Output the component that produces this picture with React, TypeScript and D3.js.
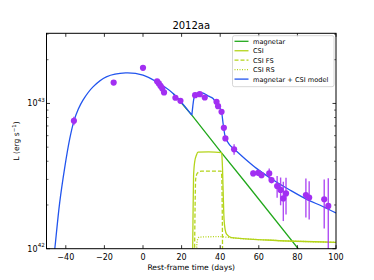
import React from 'react';
import * as d3 from 'd3';

const title = '2012aa';
const xLabel = 'Rest-frame time (days)';
const xTicks = [-40, -20, 0, 20, 40, 60, 80, 100];
const yMajor = [1e42, 1e43];
const yMajorLabels = ['42', '43'];
const yMinor = [2e42, 3e42, 4e42, 5e42, 6e42, 7e42, 8e42, 9e42, 2e43, 3e43];

// observed bolometric light curve (erg/s)
const obsTime = [-35.8, -15.2, 0, 7.3, 8.2, 9.1, 10.0, 10.9, 16.8, 19.4, 27.0, 29.4, 32.0, 38.1, 38.9, 40.7, 41.9, 42.7, 47.2, 57.1, 59.7, 61.4, 65.4, 66.6, 69.5, 71.3, 72.7, 74.1, 84.4, 86.1, 93.9, 96.0];
const obsLum = [7.59e42, 1.393e43, 1.758e43, 1.422e43, 1.374e43, 1.321e43, 1.268e43, 1.191e43, 1.094e43, 1.042e43, 1.14e43, 1.159e43, 1.099e43, 1.026e43, 9.57e42, 8.75e42, 6.79e42, 5.74e42, 4.83e42, 3.3e42, 3.33e42, 3.21e42, 3.3e42, 2.97e42, 2.7e42, 2.54e42, 2.22e42, 2.4e42, 2.34e42, 2.25e42, 2.19e42, 1.97e42];
const obsErr = [0.5e42, 0.3e42, 0.3e42, 0.3e42, 0.2e42, 0.2e42, 0.2e42, 0.2e42, 0.2e42, 0.2e42, 0.2e42, 0.2e42, 0.2e42, 0.2e42, 0.2e42, 0.2e42, 0.2e42, 0.2e42, 0.4e42, 0.15e42, 0.15e42, 0.15e42, 0.27e42, 0.15e42, 0.46e42, 0.55e42, 0.67e42, 0.68e42, 0.7e42, 0.66e42, 0.81e42, 1.08e42];

// model curves (log10 L)
const magTime = [15.6, 25.3, 40.3, 52.8, 80.4, 83.0];
const magLogL = [43.069, 42.92, 42.667, 42.461, 42.0, 41.95];

const csiTime = [25.6, 25.9, 26.2, 26.8, 27.7, 28.5, 34.0, 40.6, 40.8, 41.2, 41.6, 42.0, 42.6, 43.3, 45.9, 64.0, 100.0];
const csiLogL = [41.8, 42.2, 42.5, 42.6, 42.645, 42.665, 42.667, 42.662, 42.655, 42.55, 42.36, 42.2, 42.13, 42.1, 42.076, 42.06, 42.044];

const fsTime = [26.6, 26.9, 27.3, 28.2, 30.3, 40.4, 40.8, 41.1, 41.3];
const fsLogL = [41.8, 42.2, 42.48, 42.52, 42.534, 42.534, 42.5, 42.2, 41.8];

const rsTime = [27.5, 27.8, 28.2, 29.2, 40.0, 46.0, 64.0, 100.0];
const rsLogL = [41.8, 42.0, 42.06, 42.08, 42.083, 42.075, 42.06, 42.044];

// magnetar-only part of the full model (before CSI onset)
const modelEarlyTime = [-46.3, -45.7, -43.2, -40.6, -38.0, -35.8, -33.5, -31.1, -25.9, -19.0, -9.0, 0, 7.0, 15.6, 25.3];
const modelEarlyLogL = [41.93, 42.0, 42.314, 42.555, 42.754, 42.878, 42.961, 43.023, 43.114, 43.183, 43.21, 43.195, 43.149, 43.069, 42.92];
// after CSI onset
const modelLateTime = [25.3, 25.8, 26.3, 27.2, 28.9, 31.5, 34.0, 36.3, 38.1, 38.9, 40.7, 41.5, 42.4, 43.8, 45.0, 46.7, 50.2, 52.8, 58.8, 67.5, 76.1, 84.8, 93.4, 100.0];
const modelLateLogL = [42.92, 42.98, 43.03, 43.057, 43.076, 43.069, 43.05, 43.034, 43.0, 42.988, 42.942, 42.862, 42.782, 42.736, 42.713, 42.691, 42.65, 42.62, 42.553, 42.473, 42.404, 42.34, 42.289, 42.246];

const legendNames = ['magnetar', 'CSI', 'CSI FS', 'CSI RS', 'magnetar + CSI model'];

const GREEN = '#22a81c';
const LIME = '#b4d41a';
const BLUE = '#2255ee';
const PURPLE = '#a22ff2';

const W = 374, H = 280;
const PL = 46.5, PR = 336, PT = 33.3, PB = 248.7;

export default function App() {
  const x = d3.scaleLinear().domain([-50, 100]).range([PL, PR]);
  const y = d3.scaleLog().domain([1e42, 3.04e43]).range([PB, PT]);
  const mk = (ts: number[], ls: number[], curve: d3.CurveFactory) =>
    d3.line<number>().x((_, i) => x(ts[i])).y(d => y(Math.pow(10, d))).curve(curve)(ls) || '';

  const series = [
    { name: legendNames[0], path: mk(magTime, magLogL, d3.curveLinear), color: GREEN, dash: undefined as string | undefined },
    { name: legendNames[1], path: mk(csiTime, csiLogL, d3.curveMonotoneX), color: LIME, dash: undefined },
    { name: legendNames[2], path: mk(fsTime, fsLogL, d3.curveMonotoneX), color: LIME, dash: '4,2' },
    { name: legendNames[3], path: mk(rsTime, rsLogL, d3.curveMonotoneX), color: LIME, dash: '1,1.5' },
    {
      name: legendNames[4],
      path: mk(modelEarlyTime, modelEarlyLogL, d3.curveCatmullRom.alpha(0.5)) + mk(modelLateTime, modelLateLogL, d3.curveMonotoneX),
      color: BLUE, dash: undefined,
    },
  ];
  const font = 'DejaVu Sans, sans-serif';
  const lx = 232.5, ly = 35.7, lw = 101.5, lh = 51;

  return (
    <svg width={W} height={H} style={{ position: 'absolute', left: 0, top: 0, background: '#fff' }} fontFamily={font}>
      <defs>
        <clipPath id="plotclip">
          <rect x={PL} y={PT} width={PR - PL} height={PB - PT} />
        </clipPath>
      </defs>
      <rect x={0} y={0} width={W} height={H} fill="#fff" />
      <g clipPath="url(#plotclip)">
        {series.map((s, i) => (
          <path key={i} d={s.path} fill="none" stroke={s.color} strokeWidth={1.3} strokeDasharray={s.dash} strokeLinejoin="round" />
        ))}
        {obsTime.map((t, i) => {
          const lo = Math.max(obsLum[i] - obsErr[i], 1e41);
          return (
            <line key={'e' + i} x1={x(t)} x2={x(t)} y1={y(obsLum[i] + obsErr[i])} y2={y(lo)} stroke={PURPLE} strokeWidth={1.4} opacity={0.85} />
          );
        })}
        {obsTime.map((t, i) => (
          <circle key={'p' + i} cx={x(t)} cy={y(obsLum[i])} r={3.1} fill={PURPLE} />
        ))}
      </g>
      {/* frame */}
      <rect x={PL} y={PT} width={PR - PL} height={PB - PT} fill="none" stroke="#000" strokeWidth={1} />
      {/* x ticks */}
      {xTicks.map(t => (
        <g key={'xt' + t}>
          <line x1={x(t)} x2={x(t)} y1={PB} y2={PB - 3.5} stroke="#000" strokeWidth={0.8} />
          <line x1={x(t)} x2={x(t)} y1={PT} y2={PT + 3.5} stroke="#000" strokeWidth={0.8} />
          <text x={x(t)} y={259.5} fontSize={8} textAnchor="middle" fill="#000">{t < 0 ? '\u2212' + Math.abs(t) : t}</text>
        </g>
      ))}
      {/* y ticks */}
      {yMajor.map((v, i) => (
        <g key={'ym' + i}>
          <line x1={PL} x2={PL + 3.5} y1={y(v)} y2={y(v)} stroke="#000" strokeWidth={0.8} />
          <line x1={PR} x2={PR - 3.5} y1={y(v)} y2={y(v)} stroke="#000" strokeWidth={0.8} />
          <text x={37.5} y={y(v) + 3} fontSize={8} textAnchor="end" fill="#000">10</text>
          <text x={37.8} y={y(v) - 1.5} fontSize={5.6} textAnchor="start" fill="#000">{yMajorLabels[i]}</text>
        </g>
      ))}
      {yMinor.map((v, i) => (
        <g key={'yn' + i}>
          <line x1={PL} x2={PL + 2} y1={y(v)} y2={y(v)} stroke="#000" strokeWidth={0.6} />
          <line x1={PR} x2={PR - 2} y1={y(v)} y2={y(v)} stroke="#000" strokeWidth={0.6} />
        </g>
      ))}
      {/* labels */}
      <text x={(PL + PR) / 2} y={29} fontSize={10} textAnchor="middle" fill="#000">{title}</text>
      <text x={(PL + PR) / 2} y={269.5} fontSize={7.6} textAnchor="middle" fill="#000">{xLabel}</text>
      <text transform={`translate(19,${(PT + PB) / 2}) rotate(-90)`} fontSize={7.6} textAnchor="middle" fill="#000">
        L (erg s<tspan dy={-3} fontSize={5.4}>{'\u2212'}1</tspan><tspan dy={3}>)</tspan>
      </text>
      {/* legend */}
      <rect x={lx} y={ly} width={lw} height={lh} rx={2} fill="#fff" fillOpacity={0.85} stroke="#cccccc" strokeWidth={0.8} />
      {series.map((s, i) => {
        const yy = 41.3 + i * 9.45;
        return (
          <g key={'lg' + i}>
            <line x1={234.5} x2={248.5} y1={yy} y2={yy} stroke={s.color} strokeWidth={1.3} strokeDasharray={s.dash} />
            <text x={253} y={yy + 2.4} fontSize={6.6} fill="#000">{s.name}</text>
          </g>
        );
      })}
    </svg>
  );
}
